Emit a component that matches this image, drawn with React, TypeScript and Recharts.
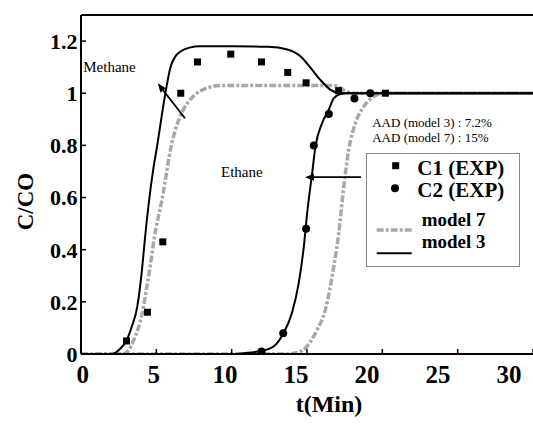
import React from "react";
import {
  ComposedChart,
  Line,
  Scatter,
  XAxis,
  YAxis,
  ReferenceLine,
  ReferenceDot,
  Legend,
  Label,
} from "recharts";

const FONT = "Liberation Serif";

// axis ticks
const xTicks = [0, 5, 10, 15, 20, 25, 30];
const yTicks = [0, 0.2, 0.4, 0.6, 0.8, 1, 1.2];

// experimental points (t in min, C/CO)
const c1Exp = [
  { t: 3.02, v: 0.05 },
  { t: 4.41, v: 0.16 },
  { t: 5.43, v: 0.43 },
  { t: 6.62, v: 1.0 },
  { t: 7.73, v: 1.12 },
  { t: 9.94, v: 1.15 },
  { t: 11.98, v: 1.12 },
  { t: 13.72, v: 1.08 },
  { t: 14.94, v: 1.04 },
  { t: 17.1, v: 1.01 },
  { t: 20.2, v: 1.0 },
];

const c2Exp = [
  { t: 11.98, v: 0.01 },
  { t: 13.42, v: 0.08 },
  { t: 14.94, v: 0.48 },
  { t: 15.45, v: 0.8 },
  { t: 16.45, v: 0.92 },
  { t: 18.15, v: 0.98 },
  { t: 19.2, v: 1.0 },
];

// model 3 (solid black)
const model3Methane = [
  { t: 0, v: 0 },
  { t: 2.0, v: 0 },
  { t: 2.3, v: 0.005 },
  { t: 2.6, v: 0.02 },
  { t: 3.0, v: 0.05 },
  { t: 3.4, v: 0.11 },
  { t: 3.73, v: 0.18 },
  { t: 4.06, v: 0.33 },
  { t: 4.24, v: 0.44 },
  { t: 4.5, v: 0.58 },
  { t: 4.8, v: 0.71 },
  { t: 5.06, v: 0.8 },
  { t: 5.35, v: 0.91 },
  { t: 5.6, v: 1.0 },
  { t: 5.94, v: 1.1 },
  { t: 6.25, v: 1.14 },
  { t: 6.6, v: 1.16 },
  { t: 7.2, v: 1.175 },
  { t: 7.9, v: 1.18 },
  { t: 10.0, v: 1.18 },
  { t: 12.4, v: 1.178 },
  { t: 13.7, v: 1.168 },
  { t: 14.6, v: 1.14 },
  { t: 15.2, v: 1.1 },
  { t: 15.9, v: 1.05 },
  { t: 16.6, v: 1.012 },
  { t: 17.2, v: 1.0 },
  { t: 30, v: 1.0 },
];

const model3Ethane = [
  { t: 0, v: 0 },
  { t: 10.1, v: 0 },
  { t: 11.25, v: 0.006 },
  { t: 11.98, v: 0.012 },
  { t: 12.8, v: 0.03 },
  { t: 13.42, v: 0.078 },
  { t: 14.0, v: 0.157 },
  { t: 14.45, v: 0.272 },
  { t: 14.79, v: 0.412 },
  { t: 15.01, v: 0.54 },
  { t: 15.34, v: 0.693 },
  { t: 15.56, v: 0.795 },
  { t: 16.0, v: 0.885 },
  { t: 16.44, v: 0.936 },
  { t: 16.78, v: 0.981 },
  { t: 17.22, v: 0.997 },
  { t: 17.6, v: 1.0 },
  { t: 30, v: 1.0 },
];

// model 7 (grey dash-dot)
const model7Methane = [
  { t: 0, v: 0 },
  { t: 2.7, v: 0 },
  { t: 3.1, v: 0.01 },
  { t: 3.4, v: 0.04 },
  { t: 3.62, v: 0.07 },
  { t: 4.0, v: 0.14 },
  { t: 4.35, v: 0.25 },
  { t: 4.6, v: 0.34 },
  { t: 4.85, v: 0.44 },
  { t: 5.4, v: 0.6 },
  { t: 6.0, v: 0.8 },
  { t: 6.5, v: 0.9 },
  { t: 6.82, v: 0.94 },
  { t: 7.49, v: 0.99 },
  { t: 8.37, v: 1.02 },
  { t: 9.26, v: 1.03 },
  { t: 16.8, v: 1.03 },
  { t: 17.2, v: 1.02 },
  { t: 17.7, v: 1.005 },
  { t: 18.2, v: 1.0 },
  { t: 30, v: 1.0 },
];

const model7Ethane = [
  { t: 0, v: 0 },
  { t: 13.6, v: 0 },
  { t: 14.3, v: 0.005 },
  { t: 14.9, v: 0.023 },
  { t: 15.67, v: 0.093 },
  { t: 16.22, v: 0.17 },
  { t: 16.78, v: 0.336 },
  { t: 17.11, v: 0.464 },
  { t: 17.44, v: 0.642 },
  { t: 17.77, v: 0.783 },
  { t: 18.21, v: 0.885 },
  { t: 18.77, v: 0.949 },
  { t: 19.43, v: 0.987 },
  { t: 20.1, v: 1.0 },
  { t: 30, v: 1.0 },
];

// annotation anchors (data coordinates)
const methaneArrow = [
  { x: 6.9, y: 0.904 },
  { x: 5.09, y: 1.038 },
];
const ethaneArrow = [
  { x: 18.58, y: 0.678 },
  { x: 14.86, y: 0.678 },
];
const notes = [
  { x: 0.15, y: 1.1, text: "Methane", size: 15 },
  { x: 9.29, y: 0.697, text: "Ethane", size: 15 },
  { x: 19.33, y: 0.888, text: "AAD (model 3) : 7.2%", size: 13 },
  { x: 19.33, y: 0.831, text: "AAD (model 7) : 15%", size: 13 },
];

const GREY = "#a9a9a9";
const DASH = "7 2 3 2";

const Square = (p: any) => (
  <rect x={p.cx - 3.5} y={p.cy - 3.5} width={7} height={7} fill="#000" />
);
const Dot = (p: any) => <circle cx={p.cx} cy={p.cy} r={4} fill="#000" />;

const Arrow = (p: any) => {
  const { x1, y1, x2, y2 } = p;
  const ang = Math.atan2(y2 - y1, x2 - x1);
  const L = 9;
  const W = 3.5;
  const bx = x2 - L * Math.cos(ang);
  const by = y2 - L * Math.sin(ang);
  const nx = -Math.sin(ang);
  const ny = Math.cos(ang);
  return (
    <g>
      <line x1={x1} y1={y1} x2={bx} y2={by} stroke="#000" strokeWidth={1.8} />
      <polygon
        points={`${x2},${y2} ${bx + nx * W},${by + ny * W} ${bx - nx * W},${by - ny * W}`}
        fill="#000"
      />
    </g>
  );
};

const XTick = (p: any) => {
  const { x, y, payload } = p;
  return (
    <text
      x={82.8 + (x - 81) * 0.943}
      y={y}
      dy={24}
      textAnchor="middle"
      fontSize={25}
      fontWeight="bold"
      fontFamily={FONT}
      fill="#000"
    >
      {payload.value}
    </text>
  );
};

const LegendBox = () => (
  <svg width={154} height={114} style={{ display: "block" }}>
    <rect x={0.5} y={0.5} width={153} height={113} fill="#fff" stroke="#888" />
    <rect x={26.2} y={9.2} width={7} height={7} fill="#000" />
    <circle cx={29} cy={35.3} r={4} fill="#000" />
    <text x={51.3} y={22} fontSize={21} fontWeight="bold" fontFamily={FONT}>
      C1 (EXP)
    </text>
    <text x={51.3} y={43.7} fontSize={21} fontWeight="bold" fontFamily={FONT}>
      C2 (EXP)
    </text>
    <text x={55.7} y={73} fontSize={19} fontWeight="bold" fontFamily={FONT}>
      model 7
    </text>
    <text x={55.7} y={95} fontSize={19} fontWeight="bold" fontFamily={FONT}>
      model 3
    </text>
    <line x1={10.7} y1={77} x2={45.7} y2={77} stroke={GREY} strokeWidth={3.5} strokeDasharray={DASH} />
    <line x1={10.7} y1={100.3} x2={45.7} y2={100.3} stroke="#000" strokeWidth={2} />
  </svg>
);

export default function App() {
  return (
    <div
      style={{
        position: "absolute",
        left: 0,
        top: 0,
        background: "#fff",
        fontFamily: FONT,
      }}
    >
      <ComposedChart
        width={533}
        height={426}
        margin={{ top: 15, right: 0, bottom: 0, left: 0 }}
        style={{ fontFamily: FONT }}
      >
        <XAxis
          dataKey="t"
          type="number"
          domain={[0, 30]}
          ticks={xTicks}
          allowDataOverflow
          height={72}
          axisLine={{ stroke: "#000", strokeWidth: 2 }}
          tickLine={{ stroke: "#000", strokeWidth: 1.5 }}
          tickSize={-5}
          tickMargin={10}
          tick={<XTick />}
          interval={0}
        >
          <Label
            content={(p: any) => {
              const vb = p.viewBox;
              return (
                <text
                  x={vb.x + vb.width / 2 + 22}
                  y={vb.y + 58}
                  textAnchor="middle"
                  fontSize={24}
                  fontWeight="bold"
                  fontFamily={FONT}
                  fill="#000"
                >
                  t(Min)
                </text>
              );
            }}
          />
        </XAxis>
        <YAxis
          type="number"
          domain={[0, 1.3]}
          ticks={yTicks}
          allowDataOverflow
          width={81}
          axisLine={{ stroke: "#000", strokeWidth: 2 }}
          tickLine={{ stroke: "#000", strokeWidth: 1.5 }}
          tickSize={-5}
          tickMargin={8.5}
          tick={{ fontSize: 22, fontWeight: "bold", fill: "#000", fontFamily: FONT }}
          interval={0}
        >
          <Label
            content={(p: any) => {
              const vb = p.viewBox;
              const cx = vb.x + 25;
              const cy = vb.y + vb.height / 2 + 17;
              return (
                <text
                  x={cx}
                  y={cy}
                  transform={`rotate(-90 ${cx} ${cy})`}
                  textAnchor="middle"
                  dominantBaseline="central"
                  fontSize={23}
                  fontWeight="bold"
                  fontFamily={FONT}
                  fill="#000"
                >
                  C/CO
                </text>
              );
            }}
          />
        </YAxis>
        <ReferenceLine y={1.3} stroke="#000" strokeWidth={2} />

        <Line data={model7Methane} dataKey="v" type="monotone" stroke={GREY} strokeWidth={3.5} strokeDasharray={DASH} dot={false} isAnimationActive={false} />
        <Line data={model7Ethane} dataKey="v" type="monotone" stroke={GREY} strokeWidth={3.5} strokeDasharray={DASH} dot={false} isAnimationActive={false} />
        <Line data={model3Methane} dataKey="v" type="monotone" stroke="#000" strokeWidth={2} dot={false} isAnimationActive={false} />
        <Line data={model3Ethane} dataKey="v" type="monotone" stroke="#000" strokeWidth={2} dot={false} isAnimationActive={false} />

        <Scatter data={c1Exp} dataKey="v" shape={<Square />} isAnimationActive={false} />
        <Scatter data={c2Exp} dataKey="v" shape={<Dot />} isAnimationActive={false} />

        <ReferenceLine segment={methaneArrow} shape={<Arrow />} ifOverflow="visible" />
        <ReferenceLine segment={ethaneArrow} shape={<Arrow />} ifOverflow="visible" />

        {notes.map((n) => (
          <ReferenceDot
            key={n.text}
            x={n.x}
            y={n.y}
            r={0}
            ifOverflow="visible"
            shape={(p: any) => (
              <text
                x={p.cx}
                y={p.cy}
                dominantBaseline="central"
                fontSize={n.size}
                fontFamily={FONT}
                fill="#000"
              >
                {n.text}
              </text>
            )}
          />
        ))}

        <Legend
          layout="vertical"
          align="center"
          verticalAlign="middle"
          content={() => <LegendBox />}
          wrapperStyle={{ position: "absolute", left: 366, top: 153, width: 154, height: 114 }}
        />
      </ComposedChart>
    </div>
  );
}
